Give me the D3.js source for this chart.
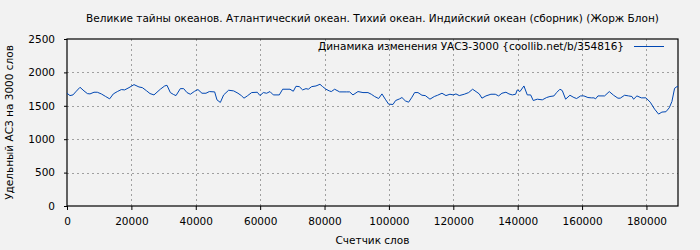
<!DOCTYPE html>
<html lang="ru">
<head>
    <meta charset="UTF-8">
    <title>Динамика изменения УАСЗ-3000</title>
    <script src="https://d3js.org/d3.v7.min.js"></script>
    <style>
        body {
            margin: 0;
            background: #f2f2f2;
        }

        svg text {
            font-family: "DejaVu Sans", sans-serif;
            font-size: 10.5px;
            fill: #000;
        }
    </style>
</head>
<body>

<div id="chart"></div>

<script>
    const title = "Великие тайны океанов. Атлантический океан. Тихий океан. Индийский океан (сборник) (Жорж Блон)";
    const seriesName = "Динамика изменения УАСЗ-3000 {coollib.net/b/354816}";
    const xLabel = "Счетчик слов";
    const yLabel = "Удельный АСЗ на 3000 слов";

    const xTicks = [0, 20000, 40000, 60000, 80000, 100000, 120000, 140000, 160000, 180000];
    const yTicks = [0, 500, 1000, 1500, 2000, 2500];

    // счетчик слов
    const words = [
        0, 930, 1860, 2690, 4040, 5280, 6320, 7140, 8390, 9420, 10660, 12010, 13250, 14390, 15630, 16880,
        17910, 19260, 20810, 22360, 23400, 24750, 25780, 27020,
        28990, 30340, 31060, 32100, 33130, 33860, 35200, 36240, 37270, 38310, 39650, 40690, 41930, 43170,
        44210, 45870, 46590, 47630, 48660, 50210, 51770, 53110, 54150,
        54980, 56010, 57360, 59120, 59950, 60980, 62020, 63050, 64090, 65950, 66990, 69270, 70300, 71130,
        72160, 73200, 74240, 74960, 76000, 77340, 78580, 79410, 80450, 81480,
        82100, 83140, 84690, 86760, 87800, 88830, 90390, 91940, 93490, 94530, 95560, 96800, 97840, 98870,
        99910, 101260, 102080, 103330, 104050, 105090, 106120, 107160, 107990, 109020,
        110260, 111300, 112750, 114100, 115130, 116480, 117720, 118960, 120000, 120820, 121860, 123410,
        124760, 126000, 127350, 128070, 128900, 130140, 131690, 133040, 134080, 135110, 136350,
        137290, 138320, 139360, 139870, 140700, 141940, 142980, 144020, 144840, 146090, 147640, 148990,
        150020, 151260, 152090, 153130, 153850, 154890, 156230, 157470, 158300, 159550, 160580, 161820,
        162860, 163690,
        164200, 164930, 167000, 168450, 169790, 171140, 171860, 173210, 174450, 175490, 176010, 177040,
        178390, 179840, 181180, 182530, 183770, 184810, 186050, 187080, 187910, 188740, 189470, 189800
    ];

    // удельный АСЗ
    const values = [
        1688, 1653, 1663, 1708, 1777, 1723, 1683, 1678, 1703, 1703, 1678, 1639, 1604, 1678, 1713, 1743,
        1738, 1772, 1817, 1782, 1772, 1723, 1683, 1663,
        1748, 1797, 1807, 1698, 1668, 1653, 1757, 1757, 1698, 1673, 1718, 1743, 1688, 1688,
        1713, 1708, 1589, 1550, 1663, 1733, 1723, 1688, 1653,
        1614, 1648, 1698, 1703, 1653, 1698, 1688, 1713, 1663, 1663, 1748, 1748, 1718, 1792,
        1787, 1738, 1757, 1748, 1787, 1797, 1822, 1787, 1748, 1723,
        1713, 1748, 1708, 1708, 1708, 1663, 1713, 1698, 1698, 1673, 1639, 1609, 1678, 1599,
        1525, 1520, 1579, 1604, 1624, 1574, 1554, 1629, 1698, 1698,
        1658, 1653, 1599, 1639, 1658, 1688, 1653, 1673, 1663, 1678, 1653, 1673,
        1698, 1748, 1703, 1678, 1614, 1648, 1673, 1673, 1648, 1688, 1703,
        1678, 1663, 1673, 1738, 1713, 1797, 1663, 1663, 1579, 1599, 1589, 1624,
        1639, 1648, 1698, 1748, 1728, 1599, 1658, 1624, 1609, 1648, 1648, 1624,
        1619, 1619,
        1604, 1648, 1648, 1713, 1658, 1614, 1614, 1658, 1648, 1639, 1599, 1648,
        1619, 1619, 1554, 1450, 1376, 1406, 1411, 1470, 1564, 1762, 1787, 1787
    ];

    const width = 700;
    const height = 250;
    const margin = {top: 39, right: 22, bottom: 44, left: 67};

    const svg = d3.select("#chart")
        .append("svg")
        .attr("width", width)
        .attr("height", height);

    const x = d3.scaleLinear()
        .domain([0, d3.max(words)])
        .range([margin.left, width - margin.right]);

    const y = d3.scaleLinear()
        .domain([0, 2500])
        .range([height - margin.bottom, margin.top]);

    // сетка
    svg.append("g")
        .selectAll("line")
        .data(xTicks.filter(d => d > 0))
        .join("line")
        .attr("x1", d => Math.round(x(d)) + 0.5)
        .attr("x2", d => Math.round(x(d)) + 0.5)
        .attr("y1", y(0))
        .attr("y2", y(2500))
        .attr("stroke", "#a0a0a0")
        .attr("stroke-dasharray", "2,3");

    svg.append("g")
        .selectAll("line")
        .data(yTicks.filter(d => d > 0 && d < 2500))
        .join("line")
        .attr("x1", x.range()[0])
        .attr("x2", x.range()[1])
        .attr("y1", d => Math.round(y(d)) + 0.5)
        .attr("y2", d => Math.round(y(d)) + 0.5)
        .attr("stroke", "#a0a0a0")
        .attr("stroke-dasharray", "2,3");

    // оси
    const xAxis = svg.append("g")
        .attr("transform", `translate(0,${y(0)})`)
        .call(d3.axisBottom(x).tickValues(xTicks).tickFormat(d3.format("d")).tickSize(4).tickPadding(8));

    const yAxis = svg.append("g")
        .attr("transform", `translate(${margin.left},0)`)
        .call(d3.axisLeft(y).tickValues(yTicks).tickFormat(d3.format("d")).tickSize(3).tickPadding(9));

    [xAxis, yAxis].forEach(g => {
        g.select(".domain").remove();
        g.selectAll("line").attr("stroke", "#000");
        g.selectAll("text").attr("font-family", "DejaVu Sans").attr("font-size", 10.5);
    });

    // рамка
    svg.append("rect")
        .attr("x", x.range()[0])
        .attr("y", y(2500))
        .attr("width", x.range()[1] - x.range()[0])
        .attr("height", y(0) - y(2500))
        .attr("fill", "none")
        .attr("stroke", "#000")
        .attr("stroke-width", 1.2);

    // линия
    const line = d3.line()
        .x((d, i) => x(words[i]))
        .y(d => y(d));

    svg.append("path")
        .datum(values)
        .attr("fill", "none")
        .attr("stroke", "#0047b3")
        .attr("stroke-width", 1)
        .attr("d", line);

    // легенда
    svg.append("text")
        .attr("x", 624)
        .attr("y", 50)
        .attr("text-anchor", "end")
        .text(seriesName);

    svg.append("line")
        .attr("x1", 634)
        .attr("x2", 664)
        .attr("y1", 46.5)
        .attr("y2", 46.5)
        .attr("stroke", "#0047b3");

    // подписи
    svg.append("text")
        .attr("x", (x.range()[0] + x.range()[1]) / 2)
        .attr("y", 22)
        .attr("text-anchor", "middle")
        .text(title);

    svg.append("text")
        .attr("x", (x.range()[0] + x.range()[1]) / 2)
        .attr("y", 244)
        .attr("text-anchor", "middle")
        .text(xLabel);

    svg.append("text")
        .attr("transform", `translate(13,${(y(0) + y(2500)) / 2}) rotate(-90)`)
        .attr("text-anchor", "middle")
        .text(yLabel);
</script>

</body>
</html>
